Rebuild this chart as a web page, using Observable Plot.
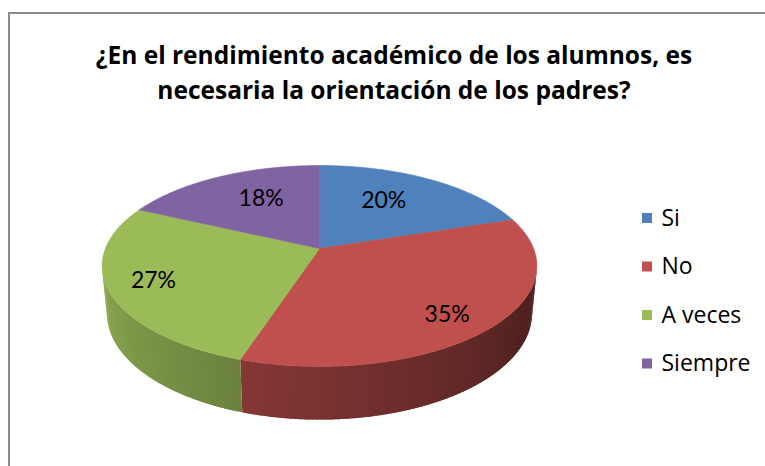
<!DOCTYPE html>
<html><head><meta charset="utf-8">
<script src="https://cdn.jsdelivr.net/npm/d3@7"></script>
<script src="https://cdn.jsdelivr.net/npm/@observablehq/plot@0.6"></script>
<style>
body{margin:0;background:#fff;}
#wrap{position:relative;width:765px;height:466px;overflow:hidden;background:#fff;}
#wrap svg{position:absolute;left:0;top:0;}
#frame{position:absolute;left:8px;top:12px;width:800px;height:500px;border-left:2px solid #8a8a8a;border-top:2px solid #8a8a8a;pointer-events:none;}
</style></head><body><div id="wrap"></div>
<script>
// ---- data ----
const categories = ["Si", "No", "A veces", "Siempre"];
const percents = [20, 35, 27, 18];
const colors = ["#4F81BD", "#C0504D", "#9BBB59", "#8064A2"];
const titleLines = ["¿En el rendimiento académico de los alumnos, es", "necesaria la orientación de los padres?"];

// ---- layout (3D perspective pie) ----
const W = 765, H = 466;
const cx = 319, cy = 248;          // projected pie centre
const f = 1094.9, s = 0.4552, c = 0.8904, D = 5.114, depthH = 0.25;
function proj(theta, r, yw) {
  const X = r * Math.sin(theta), Z = r * Math.cos(theta);
  const dep = D + c * Z - s * yw;
  return [cx + f * X / dep, cy - f * (c * yw + s * Z) / dep];
}
const arcs = d3.pie().sort(null).value(d => d)(percents);
const step = Math.PI / 360;

// top faces
const topRows = [];
arcs.forEach((a, i) => {
  const [x0, y0] = proj(0, 0, 0);
  topRows.push({id: "t" + i, x: x0, y: y0, fill: colors[i]});
  const n = Math.max(2, Math.ceil((a.endAngle - a.startAngle) / step));
  for (let k = 0; k <= n; k++) {
    const t = a.startAngle + (a.endAngle - a.startAngle) * k / n;
    const [x, y] = proj(t, 1, 0);
    topRows.push({id: "t" + i, x, y, fill: colors[i]});
  }
});

// side walls (only the visible front part), shaded by angle
const vis0 = Math.acos(-1 / (D * c)), vis1 = 2 * Math.PI - vis0;
const sideRows = [];
arcs.forEach((a, i) => {
  const lo = Math.max(a.startAngle, vis0), hi = Math.min(a.endAngle, vis1);
  if (hi <= lo) return;
  const n = Math.max(1, Math.ceil((hi - lo) / (Math.PI / 180)));
  const dt = (hi - lo) / n;
  for (let k = 0; k < n; k++) {
    const t1 = lo + dt * k, t2 = Math.min(hi, lo + dt * (k + 1.8));
    const deg = (lo + dt * (k + 0.5)) * 180 / Math.PI;
    const fac = Math.max(0.3, Math.min(0.95, 0.39 + (deg - 110) * 0.00345));
    const b = d3.rgb(colors[i]);
    const col = d3.rgb(b.r * fac, b.g * fac, b.b * fac).formatHex();
    const id = "s" + i + "_" + k;
    const pts = [];
    for (let m = 0; m <= 4; m++) pts.push([t1 + (t2 - t1) * m / 4, 0]);
    for (let m = 4; m >= 0; m--) pts.push([t1 + (t2 - t1) * m / 4, -depthH]);
    for (const [t, y] of pts) {
      const [px, py] = proj(t, 1, y);
      sideRows.push({id, x: px, y: py, fill: col});
    }
  }
});

// percentage labels
const labelRows = arcs.map((a, i) => {
  const mid = (a.startAngle + a.endAngle) / 2;
  const far = Math.cos(mid) > 0;
  const [x, y] = proj(far ? mid : mid + 0.04, far ? 0.55 : 0.79, 0);
  return {x, y: far ? y - 8 : y + 3, text: percents[i] + "%"};
});

// legend rows
const legendRows = categories.map((name, i) => ({
  name, color: colors[i], x1: 642, x2: 652, yc: 218 + i * 48.5
}));

const chart = Plot.plot({
  width: W, height: H, margin: 0,
  x: {domain: [0, W], range: [0, W], axis: null},
  y: {domain: [0, H], range: [0, H], axis: null},
  color: {type: "identity"},
  style: {background: "white", fontFamily: "Lato, sans-serif", overflow: "visible"},
  marks: [
    Plot.line(sideRows, {x: "x", y: "y", z: "id", fill: "fill", stroke: "none", curve: "linear-closed"}),
    Plot.line(topRows, {x: "x", y: "y", z: "id", fill: "fill", stroke: "fill", strokeWidth: 0.6, curve: "linear-closed"}),
    Plot.text(labelRows, {x: "x", y: "y", text: "text", fontSize: 23, fill: "#000"}),
    Plot.text([titleLines.join("\n")], {frameAnchor: "top", dx: 11, dy: 39, lineHeight: 1.42, fontSize: 24.5, fontWeight: "bold", fontFamily: "'Open Sans', sans-serif", fill: "#000"}),
    Plot.rect(legendRows, {x1: "x1", x2: "x2", y1: d => d.yc - 5, y2: d => d.yc + 5, fill: "color"}),
    Plot.text(legendRows, {x: d => d.x2 + 9, y: "yc", text: "name", textAnchor: "start", fontSize: 23, fontFamily: "'Open Sans', sans-serif", fill: "#000"})
  ]
});
const wrap = document.getElementById("wrap");
wrap.appendChild(chart);
const fr = document.createElement("div"); fr.id = "frame"; wrap.appendChild(fr);
</script></body></html>
